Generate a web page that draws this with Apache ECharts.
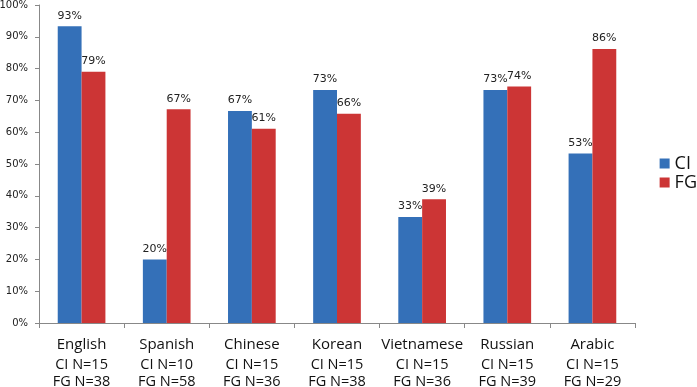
<!DOCTYPE html>
<html><head><meta charset="utf-8">
<script src="https://cdn.jsdelivr.net/npm/echarts@6/dist/echarts.min.js"></script>
<style>html,body{margin:0;padding:0;background:#fff}#c{width:697px;height:387px}</style>
</head><body><div id="c"></div>
<script>
const categories = ['English','Spanish','Chinese','Korean','Vietnamese','Russian','Arabic'];
const ciN = [15,10,15,15,15,15,15];
const fgN = [38,58,36,38,36,39,29];
const ciValues = [93.3,20,66.7,73.3,33.3,73.3,53.3];
const fgValues = [79,67.2,61.1,65.8,38.9,74.4,86.2];
const yTicks = [0,10,20,30,40,50,60,70,80,90,100];

const chart = echarts.init(document.getElementById('c'));
const labelStyle = {show:true, position:'top', distance:5, fontFamily:'DejaVu Sans', fontSize:11, color:'#222',
  formatter: p => Math.round(p.value) + '%'};
chart.setOption({
  animation:false,
  grid:{left:39, right:62, top:5, bottom:64, outerBoundsMode:'none', containLabel:false},
  legend:{orient:'vertical', right:0, top:154, padding:0, itemWidth:10, itemHeight:10, itemGap:0,
    textStyle:{fontFamily:'Open Sans', fontSize:18, color:'#111', lineHeight:19}, icon:'rect', data:['CI','FG']},
  xAxis:{type:'category', data:categories,
    axisLine:{lineStyle:{color:'#888'}},
    axisTick:{show:true, alignWithLabel:false, length:5, lineStyle:{color:'#888'}},
    axisLabel:{margin:11, interval:0,
      formatter:(v,i)=>'{a|'+v+'}\n{b|CI N='+ciN[i]+'}\n{b|FG N='+fgN[i]+'}',
      rich:{a:{fontFamily:'Open Sans', fontSize:15, color:'#111', lineHeight:22},
            b:{fontFamily:'Open Sans', fontSize:14.5, color:'#111', lineHeight:17}}}},
  yAxis:{type:'value', min:0, max:100, interval:10,
    axisLine:{show:true, lineStyle:{color:'#888'}},
    axisTick:{show:true, length:4, lineStyle:{color:'#888'}},
    splitLine:{show:false},
    axisLabel:{margin:11, fontFamily:'DejaVu Sans', fontSize:10, color:'#222',
      formatter:v=> yTicks.includes(v) ? v+'%' : ''}},
  series:[
    {name:'CI', type:'bar', data:ciValues, barGap:'0%', barCategoryGap:'44%', itemStyle:{color:'#3470b8'}, label:labelStyle},
    {name:'FG', type:'bar', data:fgValues, barGap:'0%', barCategoryGap:'44%', itemStyle:{color:'#cc3535'}, label:labelStyle}
  ]
});
</script></body></html>
